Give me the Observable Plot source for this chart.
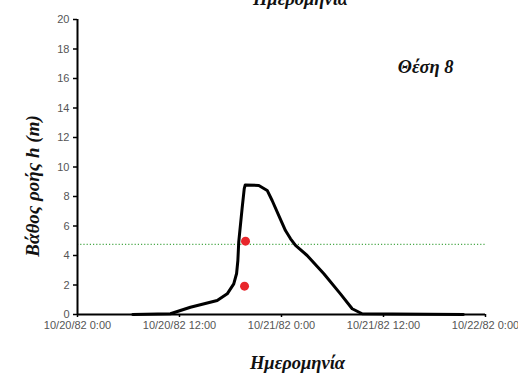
<!DOCTYPE html>
<html><head><meta charset="utf-8">
<script src="https://cdn.jsdelivr.net/npm/d3@7"></script>
<script src="https://cdn.jsdelivr.net/npm/@observablehq/plot@0.6"></script>
<style>body{margin:0;background:#fff;}</style>
</head><body><div id="chart"></div>
<script>
// Hydrograph: flow depth over time
const times = ["1982-10-20T06:30","1982-10-20T10:56","1982-10-20T13:17","1982-10-20T16:26","1982-10-20T17:37","1982-10-20T18:23","1982-10-20T18:43","1982-10-20T18:52","1982-10-20T18:58","1982-10-20T19:22","1982-10-20T19:37","1982-10-20T19:44","1982-10-20T21:20","1982-10-20T22:19","1982-10-20T22:54","1982-10-20T23:41","1982-10-21T00:28","1982-10-21T01:04","1982-10-21T01:39","1982-10-21T03:01","1982-10-21T04:59","1982-10-21T06:56","1982-10-21T08:19","1982-10-21T09:29","1982-10-21T13:00","1982-10-21T21:24"];
const depths = [0.0, 0.05, 0.49, 0.95, 1.40, 2.08, 2.78, 3.66, 4.9, 7.19, 8.54, 8.78, 8.75, 8.41, 7.73, 6.71, 5.69, 5.13, 4.68, 4.0, 2.76, 1.40, 0.39, 0.05, 0.03, 0.0];
const obsTimes = ["1982-10-20T19:46","1982-10-20T19:39"];
const obsDepths = [4.97, 1.92];
const threshold = 4.75;
const yTicks = [0,2,4,6,8,10,12,14,16,18,20];
const xTicks = ["1982-10-20T00:00","1982-10-20T12:00","1982-10-21T00:00","1982-10-21T12:00","1982-10-22T00:00"];
const title = "Ημερομηνία";
const xLabel = "Ημερομηνία";
const yLabel = "Βάθος ροής h (m)";
const station = "Θέση 8";

const toDate = s => new Date(s + "Z");
const series = times.map((t, i) => ({t: toDate(t), h: depths[i]}));
const obs = obsTimes.map((t, i) => ({t: toDate(t), h: obsDepths[i]}));
const fmt = d3.utcFormat("%-m/%-d/%y %-H:%M");
const serif = "'Liberation Serif', 'Times New Roman', serif";
const labelStyle = {fontWeight: "bold", fontStyle: "italic", fontFamily: serif, fill: "#111"};

const chart = Plot.plot({
  width: 518,
  height: 375,
  marginLeft: 77,
  marginRight: 33,
  marginTop: 19,
  marginBottom: 61,
  style: {fontFamily: "'Liberation Sans', Arial, sans-serif", background: "#fff"},
  x: {type: "utc", domain: [toDate(xTicks[0]), toDate(xTicks[xTicks.length - 1])]},
  y: {domain: [0, 20]},
  marks: [
    Plot.axisY({ticks: yTicks, tickSize: 4, tickPadding: 4, fontSize: 11, color: "#555", stroke: "#000", strokeWidth: 1.5, label: null}),
    Plot.axisX({ticks: xTicks.map(toDate), tickSize: 3, tickPadding: 4, fontSize: 11, color: "#555", stroke: "#000", strokeWidth: 1.5, tickFormat: fmt, label: null}),
    Plot.ruleY([threshold], {stroke: "#4aa84a", strokeWidth: 1.2, strokeDasharray: "1.2,2"}),
    Plot.line(series, {x: "t", y: "h", stroke: "#000", strokeWidth: 3, curve: "linear", strokeLinejoin: "round"}),
    Plot.ruleY([0], {stroke: "#000", strokeWidth: 2}),
    Plot.ruleX([toDate(xTicks[0])], {stroke: "#000", strokeWidth: 2}),
    Plot.dot(obs, {x: "t", y: "h", r: 4.5, fill: "#e8262b", stroke: null}),
    Plot.text([title], {frameAnchor: "top", textAnchor: "middle", dx: 19, dy: -15, lineAnchor: "bottom", fontSize: 18.5, ...labelStyle}),
    Plot.text([xLabel], {frameAnchor: "bottom", textAnchor: "middle", dx: 16, dy: 54, lineAnchor: "bottom", fontSize: 18.5, ...labelStyle}),
    Plot.text([station], {frameAnchor: "top-right", dx: -32, dy: 48, textAnchor: "end", lineAnchor: "middle", fontSize: 18.5, ...labelStyle}),
    Plot.text([yLabel], {frameAnchor: "left", textAnchor: "middle", dx: -45, dy: 19, rotate: -90, lineAnchor: "middle", fontSize: 19, ...labelStyle})
  ]
});
document.getElementById("chart").appendChild(chart);
</script>
</body></html>
